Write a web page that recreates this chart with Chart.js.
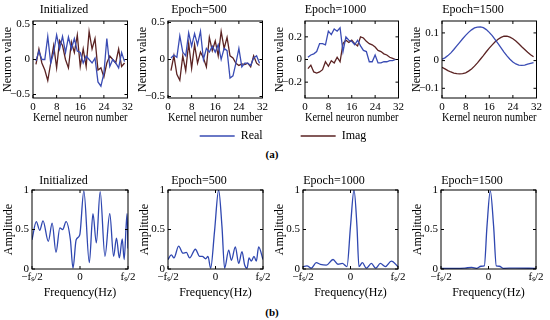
<!DOCTYPE html>
<html>
<head>
<meta charset="utf-8">
<script src="https://cdn.jsdelivr.net/npm/chart.js@4.4.1/dist/chart.umd.min.js"></script>
<style>
  body { margin: 0; background: #fff; }
  #fig { position: relative; width: 550px; height: 320px; overflow: hidden; background: #fff; }
  #fig canvas { position: absolute; }
  .cap { position: absolute; font-family: "Liberation Serif", serif; font-size: 11px; font-weight: bold; color: #000; transform: translate(-50%, -50%); }
</style>
</head>
<body>
<div id="fig">
  <div class="cap" style="left:272px;top:154px">(a)</div>
  <div class="cap" style="left:272px;top:312px">(b)</div>
</div>
<script>
// ---------- data ----------
const titles = ["Initialized", "Epoch=500", "Epoch=1000", "Epoch=1500"];

// kernel neuron index (x of the top row)
const neuronIdx = [1, 2, 3, 4, 5, 6, 7, 8, 9, 10, 11, 12, 13, 14, 15, 16,
  17, 18, 19, 20, 21, 22, 23, 24, 25, 26, 27, 28, 29, 30, 31];
const neuronIdx1500 = [0, 1, 2, 3, 4, 5, 6, 7, 8, 9, 10, 11, 12, 13, 14, 15,
  16, 17, 18, 19, 20, 21, 22, 23, 24, 25, 26, 27, 28, 29, 30, 31];
const kernelTicks = [0, 8, 16, 24, 32];

const realInit = [-0.02, 0.12, 0.0, 0.0, 0.33, -0.05, 0.1, 0.35, 0.15, 0.33, 0.1, 0.32, 0.15, 0.3, 0.12, 0.1,
  -0.05, 0.05, 0.0, -0.05, 0.02, -0.32, -0.38, -0.2, 0.3, -0.1, 0.0, -0.05, -0.12, 0.1, -0.03];
const imagInit = [-0.07, 0.15, -0.05, -0.15, -0.3, -0.05, 0.2, -0.12, 0.27, 0.2, 0.0, -0.12, 0.25, 0.1, 0.35, -0.1,
  0.15, -0.1, 0.4, 0.15, 0.3, -0.15, -0.12, -0.25, -0.05, 0.05, 0.0, -0.05, 0.15, -0.1, -0.05];

const real500 = [0.02, 0.06, 0.03, 0.32, 0.1, 0.05, 0.36, 0.18, 0.35, 0.2, 0.38, 0.0, 0.15, 0.1, 0.18, 0.1,
  0.2, 0.0, 0.15, 0.12, -0.25, -0.22, -0.05, 0.15, -0.1, -0.05, -0.05, -0.08, 0.02, 0.05, -0.05];
const imag500 = [-0.15, 0.05, -0.2, -0.28, 0.05, -0.15, 0.22, -0.12, 0.2, -0.05, 0.1, 0.02, -0.1, 0.3, 0.12, 0.25,
  0.05, 0.38, 0.15, 0.3, 0.05, 0.02, -0.05, -0.08, -0.06, -0.07, -0.05, -0.1, 0.05, -0.05, -0.08];

const real1000 = [0.02, 0.04, 0.05, 0.07, 0.14, 0.14, 0.13, 0.25, 0.22, 0.27, 0.25, 0.28, 0.07, 0.2, 0.17, 0.16,
  0.13, 0.17, 0.12, 0.08, 0.07, -0.02, -0.02, 0.04, -0.03, -0.03, -0.02, -0.02, -0.01, -0.01, 0.0];
const imag1000 = [-0.08, -0.05, -0.11, -0.12, -0.11, -0.09, -0.02, -0.06, -0.01, -0.03, 0.02, -0.02, 0.14, 0.17, 0.15, 0.17,
  0.14, 0.12, 0.2, 0.19, 0.16, 0.14, 0.13, 0.11, 0.08, 0.07, 0.05, 0.04, 0.02, 0.01, 0.0];

const real1500 = [0.005, 0.01, 0.018, 0.028, 0.04, 0.053, 0.066, 0.079, 0.091, 0.102, 0.111, 0.118, 0.121, 0.122, 0.119, 0.112,
  0.102, 0.09, 0.076, 0.061, 0.046, 0.031, 0.017, 0.005, -0.005, -0.012, -0.016, -0.017, -0.016, -0.013, -0.01, -0.007];
const imag1500 = [-0.024, -0.03, -0.036, -0.041, -0.045, -0.047, -0.048, -0.047, -0.044, -0.038, -0.03, -0.02, -0.008, 0.005, 0.018, 0.032,
  0.045, 0.057, 0.068, 0.077, 0.084, 0.088, 0.088, 0.085, 0.079, 0.071, 0.061, 0.05, 0.04, 0.03, 0.021, 0.014];

const neuronTicks = [[-0.5, 0, 0.5], [-0.5, 0, 0.5], [-0.2, 0, 0.2], [-0.1, 0, 0.1]];

// spectrum (bottom row), frequency in units of fs
const freqTicks = [-0.5, 0, 0.5];
const freqTickLabels = ["\u2212f\u209B/2", "0", "f\u209B/2"];
const ampTicks = [0, 0.5, 1];

const freqInit = [-0.5, -0.455, -0.42, -0.385, -0.33, -0.29, -0.25, -0.21, -0.18, -0.145, -0.1, -0.073, -0.04, -0.003,
  0.04, 0.097, 0.135, 0.17, 0.21, 0.26, 0.31, 0.35, 0.38, 0.41, 0.44, 0.46, 0.49, 0.5];
const ampInit = [0.37, 0.6, 0.49, 0.61, 0.35, 0.58, 0.21, 0.52, 0.5, 0.6, 0.37, 0.01, 0.37, 0.43,
  0.99, 0.08, 0.7, 0.33, 0.98, 0.16, 0.7, 0.16, 0.39, 0.14, 0.38, 0.12, 0.7, 0.26];

const freq500 = [-0.5, -0.465, -0.437, -0.388, -0.342, -0.307, -0.272, -0.212, -0.167, -0.139, -0.104, -0.079, -0.051,
  -0.01, 0.033, 0.068, 0.096, 0.139, 0.167, 0.209, 0.244, 0.279, 0.307, 0.332, 0.353, 0.377, 0.405, 0.43, 0.454, 0.5];
const amp500 = [0.12, 0.18, 0.14, 0.29, 0.2, 0.21, 0.14, 0.25, 0.16, 0.16, 0.13, 0.16, 0.01,
  0.48, 1.0, 0.54, 0.01, 0.24, 0.11, 0.28, 0.07, 0.22, 0.05, 0.01, 0.14, 0.1, 0.16, 0.1, 0.28, 0.12];

const freq1000 = [-0.5, -0.458, -0.412, -0.36, -0.318, -0.254, -0.184, -0.132, -0.086, -0.037,
  0.0, 0.037, 0.068, 0.089, 0.125, 0.167, 0.22, 0.265, 0.314, 0.367, 0.43, 0.5];
const amp1000 = [0.03, 0.04, 0.01, 0.08, 0.06, 0.05, 0.12, 0.06, 0.07, 0.03,
  0.54, 1.0, 0.54, 0.03, 0.08, 0.01, 0.07, 0.01, 0.07, 0.03, 0.1, 0.03];

const freq1500 = [-0.5, -0.353, -0.247, -0.177, -0.125, -0.079, -0.044, -0.016, 0.019, 0.054, 0.082, 0.114, 0.156, 0.279, 0.5];
const amp1500 = [0.008, 0.008, 0.012, 0.02, 0.008, 0.035, 0.04, 0.54, 0.99, 0.54, 0.04, 0.035, 0.008, 0.012, 0.008];

// ---------- style ----------
const FONT = "Liberation Serif";
const tickFont = { family: FONT, size: 11 };
const labelFont = { family: FONT, size: 12, weight: "normal" };
const REAL = "#3a4cb4";
const IMAG = "#5b2323";
const SPEC = "#2f47b0";

const fig = document.getElementById("fig");
function addCanvas(left, top, w, h) {
  const c = document.createElement("canvas");
  c.width = w; c.height = h;
  c.style.left = left + "px"; c.style.top = top + "px";
  fig.appendChild(c);
  return c;
}

const minus = v => (v < 0 ? "\u2212" + Math.abs(v) : String(v));
const pairs = (xs, ys) => ys.map((y, i) => ({ x: xs[i], y: y }));

// box around the plot area plus small inward ticks (matlab look)
const frame = {
  id: "frame",
  afterDraw(chart) {
    const { ctx, chartArea: a, scales } = chart;
    ctx.save();
    ctx.strokeStyle = "#000";
    ctx.lineWidth = 1;
    ctx.beginPath();
    scales.x.ticks.forEach(t => {
      const p = scales.x.getPixelForValue(t.value);
      ctx.moveTo(p, a.bottom); ctx.lineTo(p, a.bottom - 3);
      ctx.moveTo(p, a.top); ctx.lineTo(p, a.top + 3);
    });
    scales.y.ticks.forEach(t => {
      const p = scales.y.getPixelForValue(t.value);
      ctx.moveTo(a.left, p); ctx.lineTo(a.left + 3, p);
      ctx.moveTo(a.right, p); ctx.lineTo(a.right - 3, p);
    });
    ctx.stroke();
    ctx.strokeRect(a.left, a.top, a.right - a.left, a.bottom - a.top);
    ctx.restore();
  }
};

function panel(canvas, o) {
  return new Chart(canvas, {
    type: "line",
    data: { datasets: o.datasets },
    options: {
      responsive: false,
      animation: false,
      events: [],
      layout: { padding: { right: o.padRight } },
      elements: { point: { radius: 0 }, line: { borderWidth: 1.3 } },
      plugins: {
        legend: { display: false },
        tooltip: { enabled: false },
        title: { display: true, text: o.title, color: "#000", font: labelFont, padding: o.titlePad }
      },
      scales: {
        x: {
          type: "linear", min: o.xMin, max: o.xMax,
          grid: { display: false, drawTicks: false }, border: { display: false },
          afterBuildTicks: s => { s.ticks = o.xTicks.map(v => ({ value: v })); },
          afterFit: s => { s.height = o.xAxisH; },
          ticks: { color: "#000", font: tickFont, padding: o.xTickPad, maxRotation: 0, autoSkip: false,
            callback: o.xLabel },
          title: { display: true, text: o.xTitle, color: "#000", font: labelFont, padding: { top: 0, bottom: o.xTitleBottom } }
        },
        y: {
          min: o.yMin, max: o.yMax,
          grid: { display: false, drawTicks: false }, border: { display: false },
          afterBuildTicks: s => { s.ticks = o.yTicks.map(v => ({ value: v })); },
          afterFit: s => { s.width = 33; },
          ticks: { color: "#000", font: tickFont, padding: 3, callback: v => minus(v) },
          title: { display: true, text: o.yTitle, color: "#000", font: labelFont, padding: { top: o.yTitleTop, bottom: 0 } }
        }
      }
    },
    plugins: [frame]
  });
}

// ---------- top row: kernel weights ----------
const topLefts = [33, 168, 305, 442];
const topWidths = [95, 95, 94, 95];
const topRanges = [[-0.55, 0.55], [-0.52, 0.52], [-0.34, 0.34], [-0.135, 0.143]];
const topSeries = [
  [pairs(neuronIdx, realInit), pairs(neuronIdx, imagInit)],
  [pairs(neuronIdx, real500), pairs(neuronIdx, imag500)],
  [pairs(neuronIdx, real1000), pairs(neuronIdx, imag1000)],
  [pairs(neuronIdx1500, real1500), pairs(neuronIdx1500, imag1500)]
];

topSeries.forEach((s, i) => {
  const c = addCanvas(topLefts[i] - 33, 0, 33 + topWidths[i] + 8, 126);
  panel(c, {
    datasets: [
      { label: "Real", data: s[0], borderColor: REAL },
      { label: "Imag", data: s[1], borderColor: IMAG }
    ],
    padRight: 8,
    title: titles[i], titlePad: { top: 3, bottom: 3.6 },
    xMin: 0, xMax: 32, xTicks: kernelTicks, xAxisH: 28, xTickPad: 3, xTitleBottom: 1.3,
    xTitle: "Kernel neuron number",
    yMin: topRanges[i][0], yMax: topRanges[i][1], yTicks: neuronTicks[i],
    yTitle: "Neuron value", yTitleTop: 1
  });
});

// ---------- bottom row: spectra ----------
const botLefts = [32, 168, 303, 441];
const botWidths = [96, 95, 95, 95];
const botSeries = [
  pairs(freqInit, ampInit),
  pairs(freq500, amp500),
  pairs(freq1000, amp1000),
  pairs(freq1500, amp1500)
];

botSeries.forEach((s, i) => {
  const c = addCanvas(botLefts[i] - 33, 170, 33 + botWidths[i] + 10, 132);
  panel(c, {
    datasets: [
      { label: "Amplitude", data: s, borderColor: SPEC, cubicInterpolationMode: "monotone" }
    ],
    padRight: 10,
    title: titles[i], titlePad: { top: 4, bottom: 1.6 },
    xMin: -0.5, xMax: 0.5, xTicks: freqTicks, xAxisH: 33, xTickPad: 2, xTitleBottom: 1.8,
    xLabel: (v, idx) => freqTickLabels[idx],
    xTitle: "Frequency(Hz)",
    yMin: 0, yMax: 1, yTicks: ampTicks,
    yTitle: "Amplitude", yTitleTop: 3
  });
});

// ---------- shared legend for (a) ----------
const lg = addCanvas(133, 92, 300, 100);
new Chart(lg, {
  type: "line",
  data: {
    datasets: [
      { label: "Real", data: [], borderColor: REAL, backgroundColor: REAL, borderWidth: 1.3 },
      { label: "Imag", data: [], borderColor: IMAG, backgroundColor: IMAG, borderWidth: 1.3 }
    ]
  },
  options: {
    responsive: false,
    animation: false,
    events: [],
    scales: { x: { display: false }, y: { display: false } },
    plugins: {
      tooltip: { enabled: false },
      legend: {
        position: "top",
        labels: { boxWidth: 35, boxHeight: 0, padding: 38, color: "#000", font: labelFont }
      }
    }
  }
});
</script>
</body>
</html>
